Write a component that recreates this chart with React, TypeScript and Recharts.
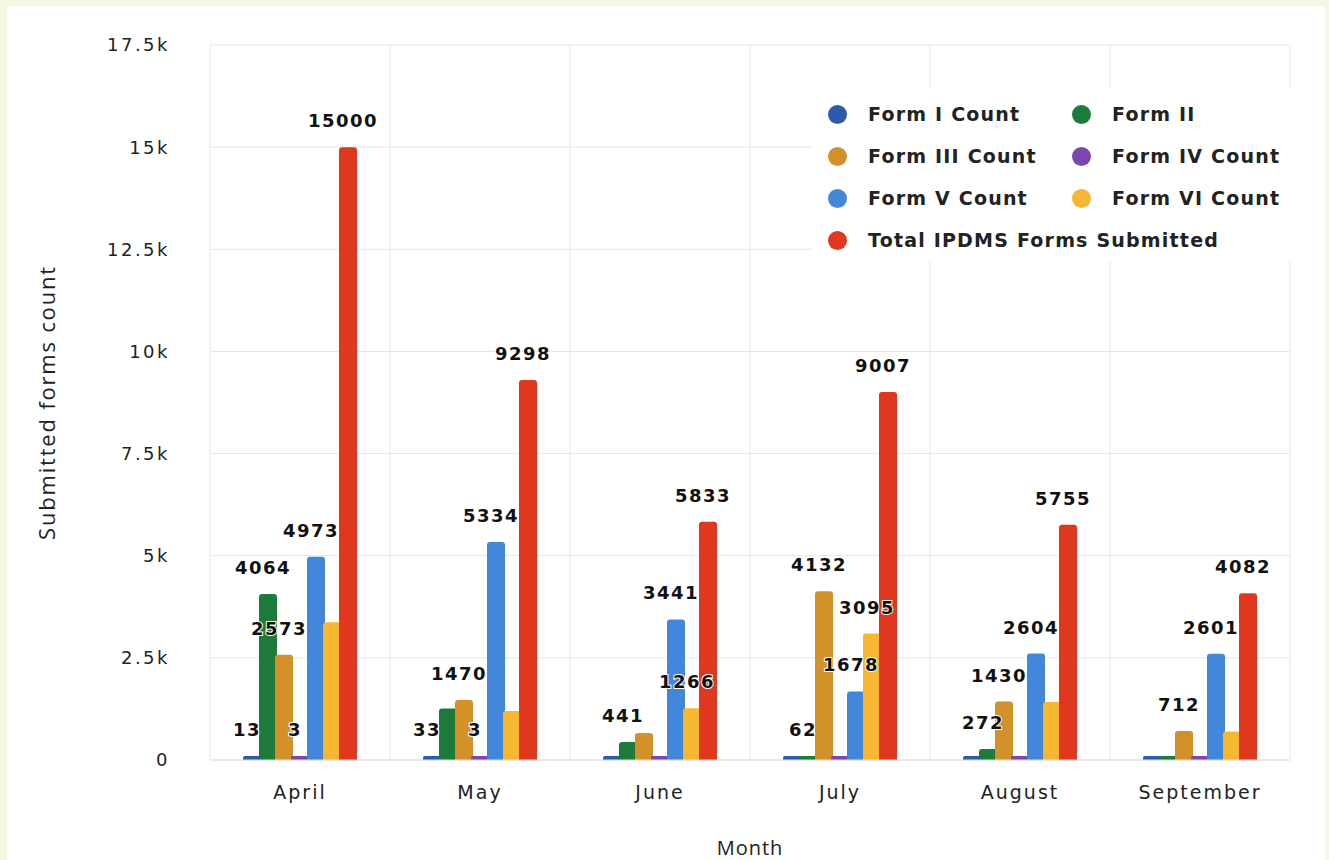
import {
  BarChart,
  Bar,
  XAxis,
  YAxis,
  CartesianGrid,
  Legend,
  LabelList,
} from 'recharts';

const months = ['April', 'May', 'June', 'July', 'August', 'September'];

const formI = [13, 33, 10, 30, 15, 20];
const formII = [4064, 1260, 441, 62, 272, 35];
const formIII = [2573, 1470, 660, 4132, 1430, 712];
const formIV = [3, 3, 15, 10, 14, 14];
const formV = [4973, 5334, 3441, 1678, 2604, 2601];
const formVI = [3374, 1198, 1266, 3095, 1420, 700];
const totals = [15000, 9298, 5833, 9007, 5755, 4082];

// which data labels survive the overlap hiding in the original
const formIShow = [true, true, false, false, false, false];
const formIIShow = [true, false, true, true, true, false];
const formIIIShow = [true, true, false, true, true, true];
const formIVShow = [true, true, false, false, false, false];
const formVShow = [true, true, true, true, true, true];
const formVIShow = [false, false, true, true, false, false];
const totalShow = [true, true, true, true, true, true];

const yTicks = [0, 2500, 5000, 7500, 10000, 12500, 15000, 17500];

const series = [
  { key: 'formI', name: 'Form I Count', color: '#2c5ba9', values: formI, show: formIShow },
  { key: 'formII', name: 'Form II', color: '#1c7a3b', values: formII, show: formIIShow },
  { key: 'formIII', name: 'Form III Count', color: '#d3912a', values: formIII, show: formIIIShow },
  { key: 'formIV', name: 'Form IV Count', color: '#7b47ae', values: formIV, show: formIVShow },
  { key: 'formV', name: 'Form V Count', color: '#4287da', values: formV, show: formVShow },
  { key: 'formVI', name: 'Form VI Count', color: '#f6b733', values: formVI, show: formVIShow },
  { key: 'total', name: 'Total IPDMS Forms Submitted', color: '#e0371f', values: totals, show: totalShow },
];

const data = months.map((month, i) => {
  const row: Record<string, string | number> = { month };
  series.forEach((s) => {
    row[s.key] = s.values[i];
  });
  return row;
});

const FONT = '"DejaVu Sans", Verdana, sans-serif';

const fmtK = (v: number) => (v === 0 ? '0' : `${v / 1000}k`);

const makeLabel = (show: boolean[]) => (props: any) => {
  const { x, y, width, value, index } = props;
  if (!show[index]) return null;
  return (
    <text
      x={Number(x) + Number(width) / 2 - 5}
      y={Number(y) - 20}
      textAnchor="middle"
      fontSize={18}
      fontWeight="bold"
      letterSpacing={1.5}
      fill="#111"
      stroke="#fff"
      strokeWidth={2}
      paintOrder="stroke"
      style={{ fontFamily: FONT }}
    >
      {value}
    </text>
  );
};

function LegendBox({ payload }: any) {
  const items = payload || [];
  return (
    <div
      style={{
        background: '#fff',
        width: 480,
        height: 174,
        boxSizing: 'border-box',
        padding: '5px 0 0 16px',
        display: 'grid',
        gridTemplateColumns: '244px 220px',
        gridAutoRows: '42px',
        fontFamily: FONT,
      }}
    >
      {items.map((item: any, i: number) => (
        <div
          key={item.value}
          style={{
            display: 'flex',
            alignItems: 'center',
            gridColumn: i === items.length - 1 ? '1 / span 2' : undefined,
          }}
        >
          <span
            style={{
              width: 19,
              height: 19,
              borderRadius: '50%',
              background: item.color,
              marginRight: 21,
              flex: 'none',
            }}
          />
          <span style={{ fontSize: 19, fontWeight: 'bold', color: '#222', letterSpacing: 1.2 }}>
            {item.value}
          </span>
        </div>
      ))}
    </div>
  );
}

export default function App() {
  return (
    <div
      style={{
        position: 'absolute',
        left: 0,
        top: 0,
        width: 1329,
        height: 860,
        background: '#f4f7e4',
      }}
    >
      <div style={{ position: 'absolute', left: 7, top: 6, width: 1318, height: 854, background: '#fff' }}>
        <BarChart
          width={1318}
          height={854}
          data={data}
          margin={{ top: 39, right: 35, left: 20, bottom: 10 }}
          barSize={18}
          barGap={-2}
        >
          <CartesianGrid
            stroke="#e6e6e6"
            verticalCoordinatesGenerator={({ offset }: any) =>
              months.map((_, i) => offset.left + (i * offset.width) / months.length).concat(offset.left + offset.width)
            }
          />
          <XAxis
            dataKey="month"
            height={90}
            tickSize={0}
            tickMargin={26}
            axisLine={{ stroke: '#e0e0e0' }}
            tick={{ fontSize: 19, fill: '#222', fontFamily: FONT, letterSpacing: 2 }}
            label={{
              value: 'Month',
              position: 'insideBottom',
              offset: -5,
              style: { fontSize: 20, fill: '#222', fontFamily: '"Open Sans", sans-serif', letterSpacing: 1 },
            }}
          />
          <YAxis
            width={183}
            domain={[0, 17500]}
            ticks={yTicks}
            tickFormatter={fmtK}
            tickSize={0}
            tickMargin={40}
            axisLine={false}
            tick={{ fontSize: 18, fill: '#222', fontFamily: FONT, letterSpacing: 2.5 }}
            label={{
              value: 'Submitted forms count',
              angle: -90,
              position: 'insideLeft',
              offset: 20,
              style: {
                textAnchor: 'middle',
                fontSize: 22,
                fill: '#222',
                fontFamily: '"Open Sans", sans-serif',
                letterSpacing: 1.8,
              },
            }}
          />
          <Legend
            layout="horizontal"
            verticalAlign="middle"
            align="center"
            content={LegendBox}
            wrapperStyle={{ top: 82, left: 805, width: 480, height: 174 }}
          />
          {series.map((s) => (
            <Bar
              key={s.key}
              dataKey={s.key}
              name={s.name}
              fill={s.color}
              radius={[3, 3, 0, 0]}
              minPointSize={4}
              isAnimationActive={false}
            >
              <LabelList dataKey={s.key} content={makeLabel(s.show)} />
            </Bar>
          ))}
        </BarChart>
      </div>
    </div>
  );
}
